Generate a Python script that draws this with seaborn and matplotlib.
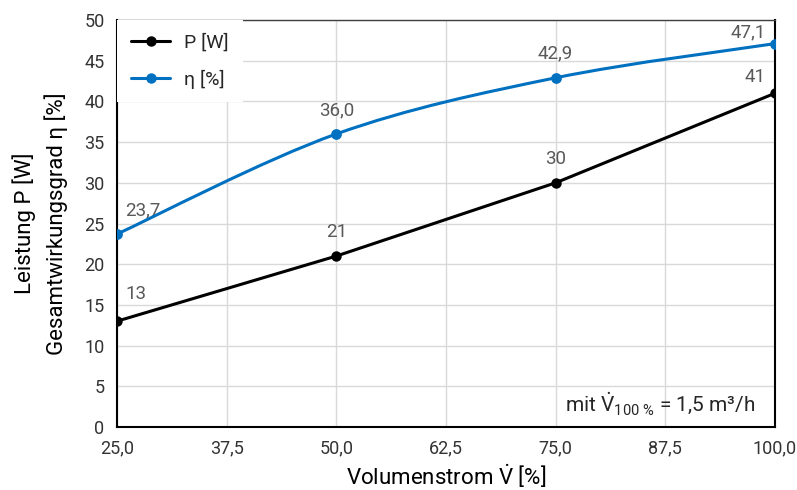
import numpy as np
import pandas as pd
import matplotlib
matplotlib.use("Agg")
import matplotlib.pyplot as plt
import seaborn as sns
from matplotlib.path import Path
from matplotlib.patches import PathPatch
from matplotlib.lines import Line2D

# Daten
volumenstrom = [25.0, 50.0, 75.0, 100.0]
leistung = [13, 21, 30, 41]
wirkungsgrad = [23.7, 36.0, 42.9, 47.1]
leistung_txt = ["13", "21", "30", "41"]
wirkungsgrad_txt = ["23,7", "36,0", "42,9", "47,1"]
x_ticks = [25.0, 37.5, 50.0, 62.5, 75.0, 87.5, 100.0]
x_tick_labels = ["25,0", "37,5", "50,0", "62,5", "75,0", "87,5", "100,0"]
y_ticks = [0, 5, 10, 15, 20, 25, 30, 35, 40, 45, 50]

BLAU = "#0070C0"
GRAU = "#595959"

sns.set_theme(style="whitegrid")
plt.rcParams["font.family"] = ["Roboto", "DejaVu Sans"]
plt.rcParams["mathtext.fontset"] = "custom"
plt.rcParams["mathtext.rm"] = "Roboto"
plt.rcParams["mathtext.it"] = "Roboto"
plt.rcParams["mathtext.bf"] = "Roboto"


def glatte_linie(xs, ys):
    # Bezier-Pfad durch die Messpunkte (wie "geglättete Linie")
    pts = np.column_stack([xs, ys]).astype(float)
    n = len(pts)
    verts = [pts[0]]
    codes = [Path.MOVETO]
    for i in range(n - 1):
        p_prev = pts[max(i - 1, 0)]
        p0 = pts[i]
        p1 = pts[i + 1]
        p_next = pts[min(i + 2, n - 1)]
        c1 = p0 + (p1 - p_prev) / 6.0
        c2 = p1 - (p_next - p0) / 6.0
        verts += [c1, c2, p1]
        codes += [Path.CURVE4] * 3
    return Path(verts, codes)


fig = plt.figure(figsize=(7.97, 4.9), dpi=100)
ax = fig.add_axes([117 / 797, 63 / 490, 658 / 797, 407 / 490])

df = pd.DataFrame({"V": volumenstrom, "P": leistung, "eta": wirkungsgrad})

# Leistung
sns.lineplot(data=df, x="V", y="P", ax=ax, color="black", lw=2.2,
             marker="o", markersize=7.5, markeredgewidth=0, zorder=4)

# Wirkungsgrad (geglättet)
ax.add_patch(PathPatch(glatte_linie(df["V"], df["eta"]), facecolor="none",
                       edgecolor=BLAU, lw=2.2, zorder=4))
sns.scatterplot(data=df, x="V", y="eta", ax=ax, color=BLAU, s=60,
                linewidth=0, zorder=5)

# Datenbeschriftungen
off_p = [(8, 27, "left"), (0, 24, "center"), (0, 24, "center"), (-9, 16, "right")]
off_eta = [(8, 24, "left"), (0, 24, "center"), (0, 24, "center"), (-9, 11, "right")]
for x, y, t, (dx, dy, ha) in zip(volumenstrom, leistung, leistung_txt, off_p):
    ax.annotate(t, (x, y), xytext=(dx, dy), textcoords="offset pixels",
                ha=ha, va="center", fontsize=13.5, color=GRAU, zorder=3)
for x, y, t, (dx, dy, ha) in zip(volumenstrom, wirkungsgrad, wirkungsgrad_txt, off_eta):
    ax.annotate(t, (x, y), xytext=(dx, dy), textcoords="offset pixels",
                ha=ha, va="center", fontsize=13.5, color=GRAU, zorder=3)

ax.set_xlim(25, 100)
ax.set_ylim(0, 50)
ax.set_xticks(x_ticks)
ax.set_xticklabels(x_tick_labels)
ax.set_yticks(y_ticks)
ax.tick_params(axis="both", labelsize=13, colors="#333333", length=0, pad=9)
ax.grid(True, color="#d9d9d9", lw=1.0)
ax.set_axisbelow(True)
for s in ["left", "bottom", "right"]:
    ax.spines[s].set_color("black")
    ax.spines[s].set_linewidth(1.5)
ax.spines["top"].set_color("#404040")
ax.spines["top"].set_linewidth(1.0)

ax.set_xlabel(r"Volumenstrom $\dot{\mathrm{V}}$ [%]", fontsize=16, color="black",
              labelpad=3)
ax.set_ylabel("Leistung P [W]\nGesamtwirkungsgrad η [%]", fontsize=16,
              color="black", labelpad=12, linespacing=1.4)

ax.text(0.970, 0.056, r"mit $\dot{\mathrm{V}}_{100\ \%}$ = 1,5 m³/h",
        transform=ax.transAxes, ha="right", va="center", fontsize=15, color="#262626")

handles = [
    Line2D([], [], color="black", lw=2.2, marker="o", markersize=7.5, markeredgewidth=0),
    Line2D([], [], color=BLAU, lw=2.2, marker="o", markersize=7.5, markeredgewidth=0),
]
leg = ax.legend(handles, ["P [W]", "η [%]"], loc="upper left",
                frameon=True, facecolor="white", edgecolor="none", framealpha=1,
                fancybox=False, handlelength=2.05, handletextpad=0.72,
                labelspacing=0.9, borderpad=0.7, borderaxespad=0.0,
                bbox_to_anchor=(0.0, 1.0), prop={"size": 14})
leg.set_zorder(6)

fig.savefig("out.png", dpi=100)
